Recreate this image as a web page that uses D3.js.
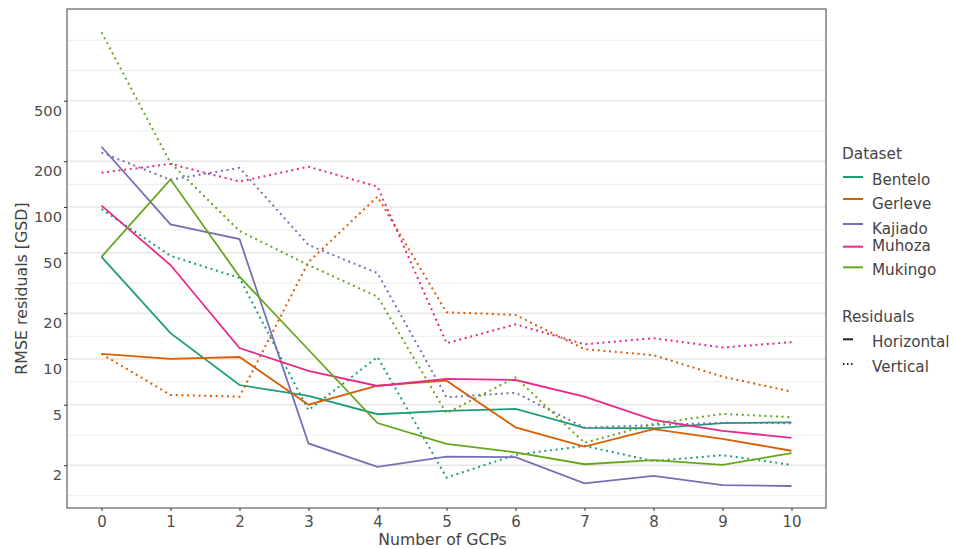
<!DOCTYPE html>
<html>
<head>
<meta charset="utf-8">
<script src="https://cdn.jsdelivr.net/npm/d3@7"></script>
<style>
  body { margin: 0; background: #fff; }
  text { font-family: "DejaVu Sans", Verdana, sans-serif; }
</style>
</head>
<body>
<div id="viz"></div>
<script>
// RMSE residuals per number of GCPs

const gcps = [0, 1, 2, 3, 4, 5, 6, 7, 8, 9, 10];
const datasets = ["Bentelo", "Gerleve", "Kajiado", "Muhoza", "Mukingo"];
const colors = ["#1b9e77", "#d95f02", "#7570b3", "#e7298a", "#66a61e"];

// horizontal residuals
const bentelo_h = [47, 14.8, 6.74, 5.71, 4.33, 4.55, 4.69, 3.52, 3.5, 3.78, 3.83];
const gerleve_h = [10.8, 10, 10.3, 5.0, 6.67, 7.2, 3.55, 2.65, 3.45, 2.98, 2.49];
const kajiado_h = [249, 76.9, 61.5, 2.78, 1.95, 2.28, 2.26, 1.52, 1.70, 1.48, 1.46];
const muhoza_h = [102, 41.5, 11.8, 8.34, 6.64, 7.39, 7.27, 5.65, 3.97, 3.37, 3.03];
const mukingo_h = [47, 152, 34.8, 11.5, 3.79, 2.76, 2.43, 2.03, 2.16, 2.01, 2.40];

// vertical residuals
const bentelo_v = [97, 47.7, 34.1, 4.6, 10.3, 1.66, 2.34, 2.68, 2.13, 2.33, 2.01];
const gerleve_v = [10.8, 5.8, 5.65, 43.5, 117, 20.3, 19.5, 11.6, 10.6, 7.65, 6.1];
const kajiado_v = [228, 151, 181, 56.2, 36.7, 5.6, 6.0, 3.53, 3.68, 3.8, 3.78];
const muhoza_v = [168, 192, 147, 184, 136, 12.7, 16.9, 12.5, 13.7, 11.9, 12.9];
const mukingo_v = [1410, 195, 69.5, 41.5, 25.7, 4.39, 7.57, 2.81, 3.74, 4.35, 4.14];

const yTicks = [2, 5, 10, 20, 50, 100, 200, 500];
const yMinor = [1.26, 3.16, 7.07, 14.1, 31.6, 70.7, 141, 316, 791, 1250];
const residualTypes = ["Horizontal", "Vertical"];

const horizontal = [bentelo_h, gerleve_h, kajiado_h, muhoza_h, mukingo_h];
const vertical = [bentelo_v, gerleve_v, kajiado_v, muhoza_v, mukingo_v];

const width = 954, height = 549;
const margin = { top: 9, right: 128, bottom: 41, left: 67 };
const innerW = width - margin.left - margin.right;
const innerH = height - margin.top - margin.bottom;

const svg = d3.select("#viz").append("svg")
  .attr("width", width)
  .attr("height", height);

const g = svg.append("g")
  .attr("transform", `translate(${margin.left},${margin.top})`);

const x = d3.scaleLinear().domain([-0.5, 10.5]).range([0, innerW]);
const y = d3.scaleLog().domain([1.046, 2007]).range([innerH, 0]);

// grille
g.selectAll(".minor").data(yMinor).join("line")
  .attr("x1", 0).attr("x2", innerW)
  .attr("y1", d => y(d)).attr("y2", d => y(d))
  .attr("stroke", "#ececec").attr("stroke-width", 1);

g.selectAll(".major").data(yTicks).join("line")
  .attr("x1", 0).attr("x2", innerW)
  .attr("y1", d => y(d)).attr("y2", d => y(d))
  .attr("stroke", "#e6e6e6").attr("stroke-width", 1.6);

// courbes
const line = d3.line()
  .x((d, i) => x(gcps[i]))
  .y(d => y(d));

datasets.forEach((name, k) => {
  g.append("path")
    .attr("d", line(vertical[k]))
    .attr("fill", "none")
    .attr("stroke", colors[k])
    .attr("stroke-width", 2)
    .attr("stroke-dasharray", "2,3.7");
  g.append("path")
    .attr("d", line(horizontal[k]))
    .attr("fill", "none")
    .attr("stroke", colors[k])
    .attr("stroke-width", 1.8);
});

// cadre
g.append("rect")
  .attr("width", innerW).attr("height", innerH)
  .attr("fill", "none")
  .attr("stroke", "#6b6b6b")
  .attr("stroke-width", 1.3);

// axes
const yAxis = g.append("g")
  .call(d3.axisLeft(y).tickValues(yTicks).tickSize(3).tickPadding(2).tickFormat(d3.format("d")));
const xAxis = g.append("g")
  .attr("transform", `translate(0,${innerH})`)
  .call(d3.axisBottom(x).tickValues(gcps).tickSize(3).tickPadding(5).tickFormat(d3.format("d")));

[yAxis, xAxis].forEach(a => {
  a.select(".domain").remove();
  a.selectAll("line").attr("stroke", "#333");
  a.selectAll("text")
    .attr("fill", "#4d4d4d")
    .style("font-family", '"DejaVu Sans", Verdana, sans-serif');
});
yAxis.selectAll("text").attr("font-size", "14.7px").attr("dy", "1.0em");
xAxis.selectAll("text").attr("font-size", "15px");

// titres des axes
svg.append("text")
  .attr("x", 442.5)
  .attr("y", 545)
  .attr("text-anchor", "middle")
  .attr("font-size", "15.7px")
  .attr("fill", "#444")
  .text("Number of GCPs");

svg.append("text")
  .attr("transform", `translate(27,288.5) rotate(-90)`)
  .attr("text-anchor", "middle")
  .attr("font-size", "15.8px")
  .attr("fill", "#444")
  .text("RMSE residuals [GSD]");

// légende
const legX = 842;
svg.append("text")
  .attr("x", legX).attr("y", 159)
  .attr("font-size", "15.3px").attr("fill", "#444")
  .text("Dataset");

const labelBase = [185, 209, 233.5, 251, 274.5];
const keyY = [177, 199, 224, 246.7, 267.3];
datasets.forEach((name, k) => {
  svg.append("line")
    .attr("x1", legX + 1).attr("x2", legX + 21)
    .attr("y1", keyY[k]).attr("y2", keyY[k])
    .attr("stroke", colors[k]).attr("stroke-width", 2);
  svg.append("text")
    .attr("x", 872).attr("y", labelBase[k])
    .attr("font-size", "15.2px").attr("fill", "#444")
    .text(name);
});

svg.append("text")
  .attr("x", legX).attr("y", 321.7)
  .attr("font-size", "15.3px").attr("fill", "#444")
  .text("Residuals");

const resBase = [346.7, 371.7];
const resKey = [339.3, 364];
residualTypes.forEach((name, k) => {
  svg.append("line")
    .attr("x1", legX + 1).attr("x2", legX + 11)
    .attr("y1", resKey[k]).attr("y2", resKey[k])
    .attr("stroke", "#222").attr("stroke-width", 2)
    .attr("stroke-dasharray", k === 1 ? "1.5,2.5" : null);
  svg.append("text")
    .attr("x", 872).attr("y", resBase[k])
    .attr("font-size", "15.2px").attr("fill", "#444")
    .text(name);
});
</script>
</body>
</html>
